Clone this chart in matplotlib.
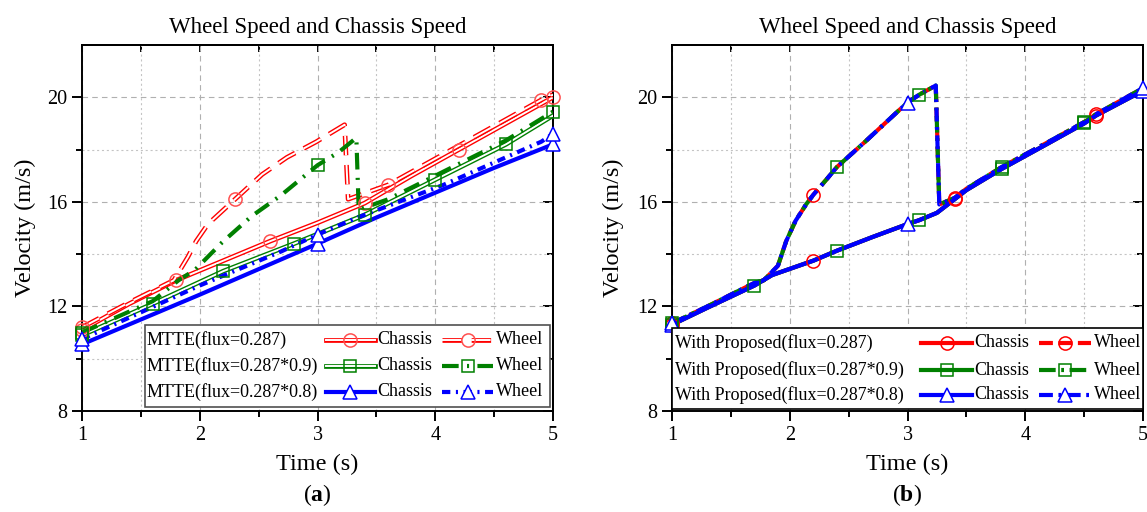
import numpy as np
import matplotlib
matplotlib.use("Agg")
import matplotlib.pyplot as plt
import matplotlib.patheffects as pe
from matplotlib.patches import Rectangle
from matplotlib.ticker import MultipleLocator, FixedLocator

plt.rcParams["font.family"] = ["Liberation Serif", "DejaVu Serif"]
plt.rcParams["mathtext.fontset"] = "custom"
plt.rcParams["mathtext.rm"] = "Liberation Serif"
plt.rcParams["mathtext.bf"] = "Liberation Serif:bold"
plt.rcParams["lines.scale_dashes"] = False

# ---- (a) MTTE ----
# flux = 0.287
mtte1_chassis_t = [1.0, 1.4, 1.8, 2.2, 2.6, 3.0, 3.4, 3.8, 4.2, 4.6, 5.0]
mtte1_chassis_v = [11.1, 12.1, 13.0, 13.75, 14.5, 15.2, 15.95, 17.0, 18.0, 19.0, 20.0]
mtte1_wheel_t = [1.0, 1.4, 1.78, 1.9, 1.97, 2.07, 2.3, 2.53, 2.74, 2.99, 3.23, 3.26,
                 3.6, 4.2, 4.9, 5.0]
mtte1_wheel_v = [11.2, 12.15, 13.0, 13.9, 14.5, 15.15, 16.1, 17.05, 17.7, 18.3, 18.95, 16.1,
                 16.65, 18.15, 19.9, 20.1]
# flux = 0.287*0.9
mtte2_chassis_t = [1.0, 1.6, 2.2, 2.8, 3.4, 4.0, 4.6, 5.0]
mtte2_chassis_v = [10.9, 12.1, 13.35, 14.4, 15.5, 16.85, 18.2, 19.3]
mtte2_wheel_t = [1.0, 1.6, 1.82, 1.96, 2.19, 2.44, 2.69, 3.0, 3.18, 3.33, 3.35,
                 3.6, 4.0, 4.6, 5.0]
mtte2_wheel_v = [11.0, 12.2, 13.0, 13.4, 14.45, 15.45, 16.25, 17.4, 17.9, 18.45, 15.7,
                 16.1, 17.0, 18.35, 19.45]
# flux = 0.287*0.8
mtte3_chassis_t = [1.0, 2.0, 3.0, 3.5, 4.0, 4.5, 5.0]
mtte3_chassis_v = [10.55, 12.45, 14.4, 15.4, 16.35, 17.3, 18.2]
mtte3_wheel_t = [1.0, 2.0, 2.69, 3.0, 3.34, 4.07, 4.9, 5.0]
mtte3_wheel_v = [10.75, 12.8, 14.1, 14.75, 15.4, 16.65, 18.3, 18.6]

# ---- (b) with proposed method (all three flux levels coincide) ----
prop_chassis_t = [1.0, 1.3, 1.7, 1.85, 2.2, 2.4, 2.7, 3.0, 3.1, 3.25, 3.4, 3.5, 3.8,
                  4.2, 4.5, 4.6, 5.0]
prop_chassis_v = [11.3, 11.95, 12.8, 13.2, 13.75, 14.13, 14.65, 15.15, 15.3, 15.58, 16.1,
                  16.45, 17.26, 18.25, 19.0, 19.3, 20.25]
prop_wheel_t = [1.0, 1.3, 1.7, 1.78, 1.9, 1.97, 2.05, 2.14, 2.2, 2.32, 2.4, 2.64, 2.92,
                3.0, 3.1, 3.24, 3.27, 3.4, 3.5, 3.8, 4.2, 4.5, 4.6, 5.0]
prop_wheel_v = [11.35, 12.0, 12.9, 13.0, 13.56, 14.5, 15.28, 15.91, 16.27, 16.9, 17.33,
                18.3, 19.47, 19.8, 20.1, 20.45, 15.9, 16.15, 16.5, 17.33, 18.3, 19.05,
                19.35, 20.35]

labels_a = ["MTTE(flux=0.287)", "MTTE(flux=0.287*0.9)", "MTTE(flux=0.287*0.8)"]
labels_b = ["With Proposed(flux=0.287)", "With Proposed(flux=0.287*0.9)",
            "With Proposed(flux=0.287*0.8)"]
RED, GREEN, BLUE = "#ff0000", "#008000", "#0000ff"
LEGEND_FS = 13.0


def hollow(color, ls="-"):
    return dict(color="white", lw=1.4, ls=ls, dash_capstyle="butt",
                path_effects=[pe.Stroke(linewidth=3.4, foreground=color), pe.Normal()])


def marker(color, m, size, face="none"):
    return dict(marker=m, ms=size, mec=color, mfc=face, mew=1.1)


circ = lambda face="none": marker(RED, "o", 9.5, face)
sq = lambda face="none": marker(GREEN, "s", 8.5, face)
tri = lambda face="white": marker(BLUE, "^", 10.5, face)

# style per series: (line style, marker style, marker times)
series_a = [
    (mtte1_chassis_t, mtte1_chassis_v, hollow(RED), marker("#ff5050", "o", 9.5),
     [1.0, 1.8, 2.6, 3.4, 4.2, 5.0]),
    (mtte1_wheel_t, mtte1_wheel_v, hollow(RED, (0, (14, 7))), marker("#ff5050", "o", 9.5),
     [1.0, 2.3, 3.6, 4.9]),
    (mtte2_chassis_t, mtte2_chassis_v, hollow(GREEN), sq(),
     [1.0, 1.6, 2.2, 2.8, 3.4, 4.0, 4.6]),
    (mtte2_wheel_t, mtte2_wheel_v, dict(color=GREEN, lw=3, ls=(0, (12, 6, 1.5, 6))), sq(),
     [1.0, 3.0, 5.0]),
    (mtte3_chassis_t, mtte3_chassis_v, dict(color=BLUE, lw=3), tri(), [1.0, 3.0, 5.0]),
    (mtte3_wheel_t, mtte3_wheel_v, dict(color=BLUE, lw=3, ls=(0, (6, 4, 1.5, 4))), tri(),
     [1.0, 3.0, 5.0]),
]

series_b = [
    (prop_chassis_t, prop_chassis_v, dict(color=RED, lw=3), circ(), [1.0, 2.2, 3.4, 4.6]),
    (prop_wheel_t, prop_wheel_v, dict(color=RED, lw=3, ls=(0, (10, 4))), circ(),
     [1.0, 2.2, 3.4, 4.6]),
    (prop_chassis_t, prop_chassis_v, dict(color=GREEN, lw=3), sq(),
     [1.0, 1.7, 2.4, 3.1, 3.8, 4.5]),
    (prop_wheel_t, prop_wheel_v, dict(color=GREEN, lw=3, ls=(0, (12, 4, 2, 4))), sq(),
     [1.0, 2.4, 3.1, 3.8, 4.5]),
    (prop_chassis_t, prop_chassis_v, dict(color=BLUE, lw=3), tri(), [1.0, 3.0, 5.0]),
    (prop_wheel_t, prop_wheel_v, dict(color=BLUE, lw=3, ls=(0, (10, 4, 2, 4))), tri(),
     [1.0, 3.0, 5.0]),
]


def draw_series(ax, series):
    for t, v, lstyle, mstyle, marks in series:
        t = np.asarray(t)
        v = np.asarray(v)
        ax.plot(t, v, zorder=3, **lstyle)
        sel = np.isin(t, marks)
        ax.plot(t[sel], v[sel], ls="none", zorder=4, clip_on=False, **mstyle)


def draw_legend(ax, series, labels, box, text_x, ch_span, wh_span, rows_y, edge):
    x0, y0, x1, y1 = box
    ax.add_patch(Rectangle((x0, y0), x1 - x0, y1 - y0, transform=ax.transAxes,
                           facecolor="white", edgecolor=edge, lw=1.2, zorder=10,
                           clip_on=False))
    for i, (label, y) in enumerate(zip(labels, rows_y)):
        ax.text(text_x, y, label, transform=ax.transAxes, ha="left", va="center",
                fontsize=LEGEND_FS, zorder=12)
        for j, (span, name) in enumerate([(ch_span, "Chassis"), (wh_span, "Wheel")]):
            _, _, lstyle, mstyle, _ = series[2 * i + j]
            ax.plot(span, [y, y], transform=ax.transAxes, zorder=11, clip_on=False, **lstyle)
            ax.plot([np.mean(span)], [y], transform=ax.transAxes, ls="none", zorder=12,
                    clip_on=False, **mstyle)
            ax.text(span[1] + 0.005, y, name, transform=ax.transAxes, ha="left",
                    va="center", fontsize=LEGEND_FS, zorder=12)


def style_axes(ax):
    ax.set_xlim(1, 5)
    ax.set_ylim(8, 22)
    ax.xaxis.set_major_locator(FixedLocator([1, 2, 3, 4, 5]))
    ax.xaxis.set_minor_locator(MultipleLocator(0.5))
    ax.yaxis.set_major_locator(FixedLocator([8, 12, 16, 20]))
    ax.yaxis.set_minor_locator(FixedLocator([10, 14, 18]))
    ax.grid(which="major", ls=(0, (4, 3)), color="#b0b0b0", lw=0.8, zorder=0)
    ax.grid(which="minor", ls=(0, (1.5, 2)), color="#c4c4c4", lw=0.8, zorder=0)
    ax.tick_params(which="major", direction="out", length=7, width=1.4, labelsize=14.5)
    ax.tick_params(which="minor", direction="out", length=4, width=1.4)
    for s in ax.spines.values():
        s.set_linewidth(1.4)
    top = ax.secondary_xaxis("top")
    top.xaxis.set_major_locator(MultipleLocator(0.5))
    top.tick_params(direction="in", length=5, width=1.4, labeltop=False)
    top.spines["top"].set_linewidth(1.4)
    right = ax.secondary_yaxis("right")
    right.yaxis.set_major_locator(FixedLocator([8, 12, 16, 20]))
    right.yaxis.set_minor_locator(FixedLocator([10, 14, 18]))
    right.tick_params(which="major", direction="in", length=7, width=1.4, labelright=False)
    right.tick_params(which="minor", direction="in", length=4, width=1.4)
    right.spines["right"].set_linewidth(1.4)
    ax.set_title("Wheel Speed and Chassis Speed", fontsize=16.5, pad=9)
    ax.set_xlabel("Time (s)", fontsize=17.5)
    ax.set_ylabel("Velocity (m/s)", fontsize=17.5)
    ax.xaxis.set_label_coords(0.5, -0.118)


fig = plt.figure(figsize=(11.47, 5.12), dpi=100)
ax_a = fig.add_axes([82 / 1147, 101 / 512, 471 / 1147, 366 / 512])
ax_b = fig.add_axes([672 / 1147, 101 / 512, 471 / 1147, 366 / 512])

draw_series(ax_a, series_a)
draw_series(ax_b, series_b)
style_axes(ax_a)
style_axes(ax_b)
ax_a.yaxis.set_label_coords(-0.098, 0.5)
ax_b.yaxis.set_label_coords(-0.102, 0.5)

draw_legend(ax_a, series_a, labels_a, (0.134, 0.011, 0.994, 0.235), 0.138,
            (0.518, 0.622), (0.764, 0.873), (0.194, 0.123, 0.052), "#505050")
draw_legend(ax_b, series_b, labels_b, (0.0, 0.005, 1.0, 0.227), 0.006,
            (0.529, 0.637), (0.780, 0.890), (0.186, 0.112, 0.044), "black")

fig.text(317 / 1147, 1 - 495 / 512, r"($\mathbf{a}$)", ha="center", va="center", fontsize=17)
fig.text(907 / 1147, 1 - 495 / 512, r"($\mathbf{b}$)", ha="center", va="center", fontsize=17)

fig.savefig("out.png", dpi=100)
